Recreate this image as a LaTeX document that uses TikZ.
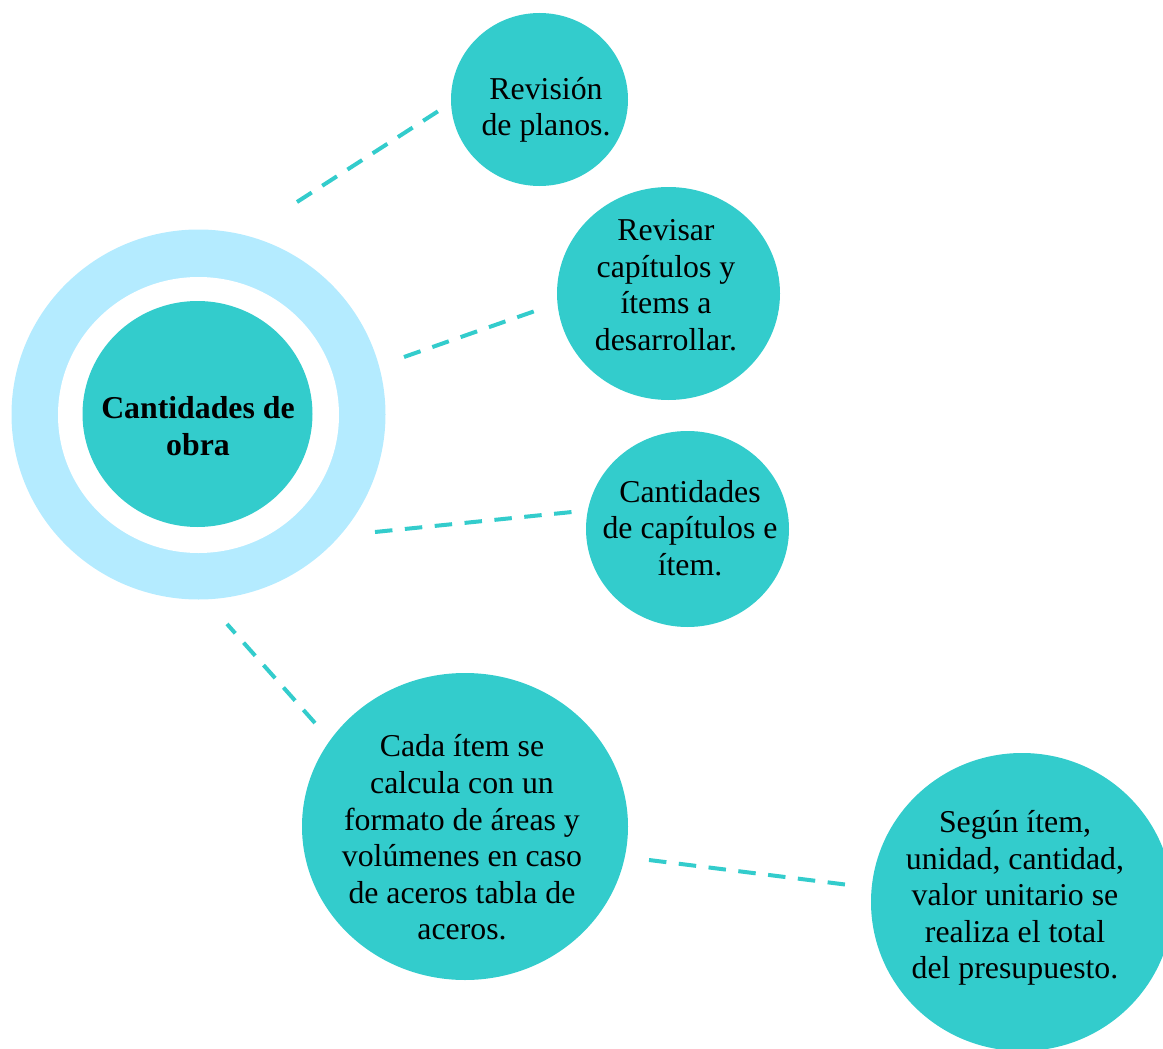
\documentclass[tikz,border=0pt]{standalone}
\usepackage{fontspec}
\setmainfont{Liberation Serif}
\usetikzlibrary{shapes.geometric}
\definecolor{teal1}{RGB}{51,204,204}
\definecolor{ringblue}{RGB}{180,235,255}
\tikzset{
  bubble/.style={ellipse, fill=teal1, draw=none, inner sep=0pt},
  ringout/.style={ellipse, fill=ringblue, draw=none, inner sep=0pt},
  ringin/.style={ellipse, fill=white, draw=none, inner sep=0pt},
  txt/.style={align=center, font=\fontsize{31.8}{36.6}\selectfont, text=black, inner sep=0pt},
  link/.style={draw=teal1, line width=4pt, dash pattern=on 17.5pt off 12.5pt}
}
\begin{document}
\begin{tikzpicture}[x=1pt,y=-1pt]
\useasboundingbox (0,0) rectangle (1163,1049);
\clip (0,0) rectangle (1163,1049);
% central ring
\node[ringout, minimum width=374pt, minimum height=370pt] (ro) at (198.5,414.5) {};
\node[ringin, minimum width=281pt, minimum height=276pt] (ri) at (198.5,415) {};
\node[bubble, minimum width=230pt, minimum height=226pt] (c) at (197.5,414) {};
\node[txt, font=\fontsize{31.8}{36.6}\selectfont\bfseries] (ct) at (198,426) {Cantidades de\\obra};
% bubbles
\node[bubble, minimum width=177pt, minimum height=173pt] (b1) at (539.5,99.5) {};
\node[txt] (t1) at (546,110) {Revisión\\de planos.};
\node[bubble, minimum width=223pt, minimum height=213pt] (b2) at (668.5,293.5) {};
\node[txt] (t2) at (666,285) {Revisar\\capítulos y\\ítems a\\desarrollar.};
\node[bubble, minimum width=203pt, minimum height=196pt] (b3) at (687.5,529) {};
\node[txt] (t3) at (690,528) {Cantidades\\de capítulos e\\ítem.};
\node[bubble, minimum width=326pt, minimum height=307pt] (b4) at (465,826.5) {};
\node[txt] (t4) at (462,837.5) {Cada ítem se\\calcula con un\\formato de áreas y\\volúmenes en caso\\de aceros tabla de\\aceros.};
\node[bubble, minimum width=302pt, minimum height=298pt] (b5) at (1022,902) {};
\node[txt] (t5) at (1015,898) {Según ítem,\\unidad, cantidad,\\valor unitario se\\realiza el total\\del presupuesto.};
% connector ends
\coordinate (l1a) at (297,202); \coordinate (l1b) at (440,110);
\coordinate (l2a) at (404,357); \coordinate (l2b) at (535,311);
\coordinate (l3a) at (375,532); \coordinate (l3b) at (572,512);
\coordinate (l4a) at (227,624); \coordinate (l4b) at (315,723);
\coordinate (l5a) at (649,860); \coordinate (l5b) at (845,884.5);
\draw[link] (l1a) -- (l1b);
\draw[link] (l2a) -- (l2b);
\draw[link] (l3a) -- (l3b);
\draw[link] (l4b) -- (l4a);
\draw[link] (l5a) -- (l5b);
\end{tikzpicture}
\end{document}
